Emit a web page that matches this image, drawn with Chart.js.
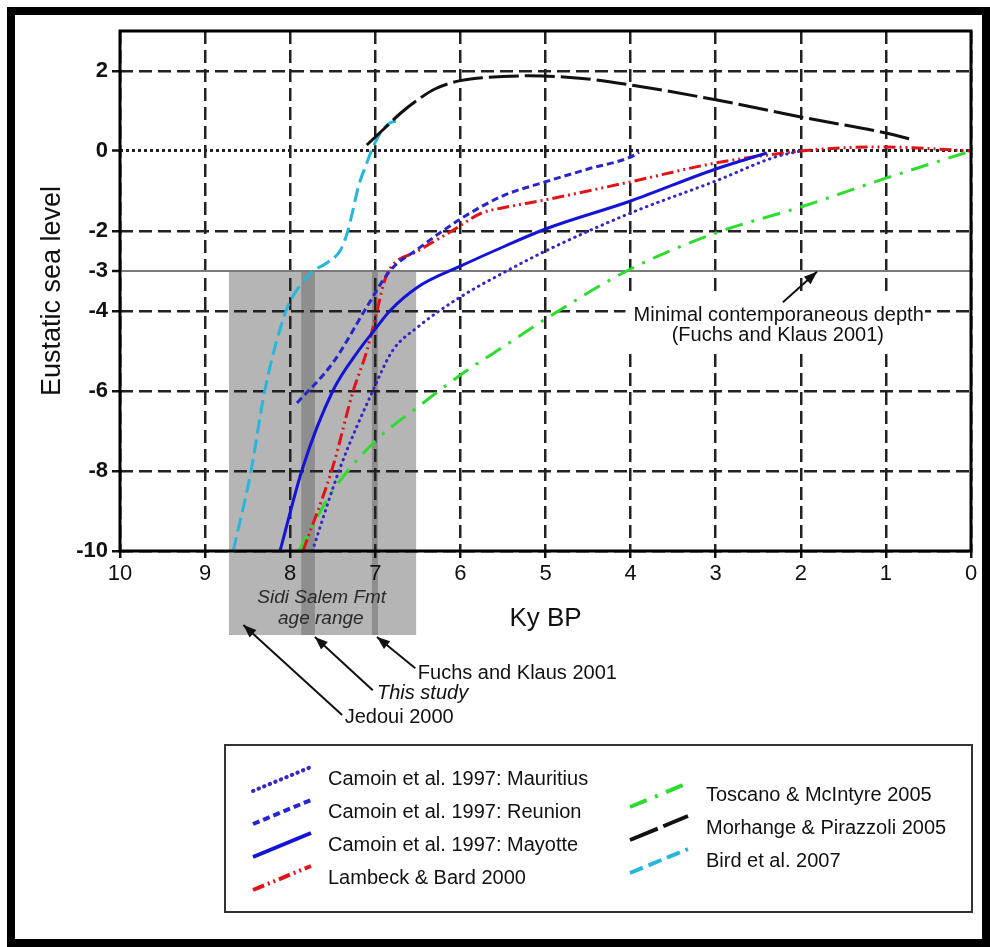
<!DOCTYPE html>
<html><head><meta charset="utf-8">
<script src="https://cdn.jsdelivr.net/npm/chart.js@4.4.1/dist/chart.umd.min.js"></script>
<style>
html,body{margin:0;padding:0;background:#fff;}
#wrap{position:relative;width:990px;height:947px;overflow:hidden;}
#frame{position:absolute;left:7px;top:7px;width:983px;height:940px;border:8px solid #000;box-sizing:border-box;pointer-events:none;}
canvas{display:block;}
</style></head><body>
<div id="wrap"><canvas id="c" width="990" height="947"></canvas><div id="frame"></div></div>
<script>
const F = '"Liberation Sans", Arial, Helvetica, sans-serif';

// Axis ticks
const xTicks = [10, 9, 8, 7, 6, 5, 4, 3, 2, 1, 0];
const yTicks = [2, 0, -2, -3, -4, -6, -8, -10];

// Series (Ky BP, eustatic sea level in m)
const mauritiusX = [7.74, 7.41, 7.03, 6.8, 6.5, 6.0, 5.5, 5.0, 4.0, 3.0, 2.3, 2.0];
const mauritiusY = [-10, -7.9, -6.0, -5.0, -4.4, -3.65, -3.05, -2.5, -1.55, -0.75, -0.15, 0];

const reunionX = [7.92, 7.5, 7.1, 6.83, 6.5, 6.0, 5.5, 5.0, 4.5, 4.0, 3.9];
const reunionY = [-6.3, -5.3, -3.9, -3.0, -2.45, -1.7, -1.12, -0.77, -0.45, -0.15, -0.03];

const mayotteX = [8.12, 7.85, 7.5, 7.2, 7.0, 6.83, 6.5, 6.0, 5.5, 5.0, 4.0, 3.0, 2.4];
const mayotteY = [-10, -7.9, -6.0, -5.0, -4.45, -4.0, -3.4, -2.88, -2.4, -1.95, -1.25, -0.45, -0.05];

const lambeckX = [7.85, 7.5, 7.26, 7.1, 6.98, 6.9, 6.83, 6.5, 6.1, 5.75, 5.5, 5.0, 4.0, 3.0, 2.0, 1.5, 1.0, 0.5, 0];
const lambeckY = [-10, -7.9, -6.0, -5.0, -4.0, -3.3, -2.95, -2.5, -2.0, -1.55, -1.42, -1.22, -0.77, -0.3, 0.0, 0.08, 0.1, 0.06, 0];

const toscanoX = [7.9, 7.5, 7.0, 6.5, 6.0, 5.5, 5.0, 4.0, 3.0, 2.0, 1.0, 0];
const toscanoY = [-10, -8.5, -7.25, -6.4, -5.6, -4.9, -4.2, -2.95, -2.05, -1.4, -0.68, 0];

const morhangeX = [7.1, 6.9, 6.7, 6.5, 6.3, 6.0, 5.5, 5.2, 4.6, 4.0, 3.0, 2.0, 1.0, 0.68];
const morhangeY = [0.15, 0.55, 0.95, 1.28, 1.55, 1.76, 1.86, 1.88, 1.82, 1.65, 1.28, 0.85, 0.45, 0.28];

const birdX = [8.67, 8.46, 8.30, 8.05, 7.93, 7.73, 7.57, 7.41, 7.33, 7.27, 7.2, 7.1, 7.04, 6.94, 6.83, 6.75];
const birdY = [-10, -8, -6, -4, -3.5, -3.0, -2.8, -2.48, -2.05, -1.55, -0.9, -0.3, 0.03, 0.45, 0.7, 0.75];

// Age ranges (Ky BP) and minimal depth
const sidiSalemRange = [8.72, 6.52];
const thisStudyRange = [7.87, 7.71];
const fuchsRange = [7.04, 6.97];
const minimalDepth = -3;
const shadeBottom = -12.1;

const pts = (xs, ys) => xs.map((v, i) => ({x: v, y: ys[i]}));

const series = [
  {label: 'Camoin et al. 1997: Mauritius', x: mauritiusX, y: mauritiusY, color: '#3328c4', dash: [0.5, 5.5], cap: 'round', col: 0},
  {label: 'Camoin et al. 1997: Reunion', x: reunionX, y: reunionY, color: '#2626cc', dash: [7, 4], cap: 'butt', col: 0},
  {label: 'Camoin et al. 1997: Mayotte', x: mayotteX, y: mayotteY, color: '#1414d6', dash: [], cap: 'butt', col: 0},
  {label: 'Lambeck & Bard 2000', x: lambeckX, y: lambeckY, color: '#e01418', dash: [12, 4, 2, 4, 2, 4], cap: 'butt', col: 0},
  {label: 'Toscano & McIntyre 2005', x: toscanoX, y: toscanoY, color: '#2edc2e', dash: [18, 9, 3, 9], cap: 'butt', col: 1},
  {label: 'Morhange & Pirazzoli 2005', x: morhangeX, y: morhangeY, color: '#111111', dash: [30, 6], cap: 'butt', col: 1},
  {label: 'Bird et al. 2007', x: birdX, y: birdY, color: '#27b6dc', dash: [14, 6], cap: 'butt', col: 1}
];

const datasets = series.map(s => ({
  label: s.label,
  data: pts(s.x, s.y),
  borderColor: s.color,
  borderWidth: 3,
  borderDash: s.dash,
  borderCapStyle: s.cap,
  pointRadius: 0,
  fill: false,
  cubicInterpolationMode: 'monotone'
}));

function arrow(ctx, x1, y1, x2, y2) {
  ctx.beginPath(); ctx.moveTo(x1, y1); ctx.lineTo(x2, y2); ctx.stroke();
  const a = Math.atan2(y2 - y1, x2 - x1), L = 13, W = 5;
  ctx.beginPath(); ctx.moveTo(x2, y2);
  ctx.lineTo(x2 - L * Math.cos(a) + W * Math.sin(a), y2 - L * Math.sin(a) - W * Math.cos(a));
  ctx.lineTo(x2 - L * Math.cos(a) - W * Math.sin(a), y2 - L * Math.sin(a) + W * Math.cos(a));
  ctx.closePath(); ctx.fill();
}

const shadePlugin = {
  id: 'shade',
  beforeDraw(chart) {
    const {ctx, scales: {x, y}} = chart;
    const top = y.getPixelForValue(minimalDepth), bot = y.getPixelForValue(shadeBottom);
    const band = (r, c) => {
      const a = x.getPixelForValue(r[0]), b = x.getPixelForValue(r[1]);
      ctx.fillStyle = c; ctx.fillRect(Math.min(a, b), top, Math.abs(b - a), bot - top);
    };
    ctx.save();
    band(sidiSalemRange, '#b5b5b5');
    band(thisStudyRange, '#8e8e8e');
    band(fuchsRange, '#8e8e8e');
    ctx.restore();
  },
  beforeDatasetsDraw(chart) {
    const {ctx, scales: {x, y}} = chart;
    // white box behind the "minimal depth" note
    const x1 = x.getPixelForValue(4.06), x2 = x.getPixelForValue(0.54);
    const y1 = y.getPixelForValue(-3.55), y2 = y.getPixelForValue(-4.93);
    ctx.save(); ctx.fillStyle = '#fff'; ctx.fillRect(x1, y1, x2 - x1, y2 - y1); ctx.restore();
  },
  afterDatasetsDraw(chart) {
    const {ctx, chartArea: a} = chart;
    ctx.save();
    ctx.strokeStyle = '#000'; ctx.lineWidth = 3;
    ctx.strokeRect(a.left, a.top, a.right - a.left, a.bottom - a.top);
    ctx.restore();
  },
  afterDraw(chart) {
    const {ctx, scales: {x, y}} = chart;
    const P = (vx, vy) => [x.getPixelForValue(vx), y.getPixelForValue(vy)];
    ctx.save();
    ctx.fillStyle = '#111'; ctx.strokeStyle = '#111'; ctx.lineWidth = 2;
    ctx.textBaseline = 'middle';
    // Sidi Salem text
    ctx.fillStyle = '#2a2a2a';
    ctx.font = 'italic 19px ' + F; ctx.textAlign = 'center';
    let p = P(7.63, -11.18); ctx.fillText('Sidi Salem Fmt', p[0], p[1]);
    p = P(7.64, -11.7); ctx.fillText('age range', p[0], p[1]);
    ctx.fillStyle = '#111';
    // arrows
    let t = P(6.53, -12.93), h = P(6.98, -12.15); arrow(ctx, t[0], t[1], h[0], h[1]);
    t = P(7.03, -13.48); h = P(7.71, -12.15); arrow(ctx, t[0], t[1], h[0], h[1]);
    t = P(7.39, -14.1); h = P(8.55, -11.85); arrow(ctx, t[0], t[1], h[0], h[1]);
    t = P(2.21, -3.78); h = P(1.81, -3.02); arrow(ctx, t[0], t[1], h[0], h[1]);
    ctx.textAlign = 'left';
    ctx.font = '20px ' + F;
    p = P(6.5, -13.05); ctx.fillText('Fuchs and Klaus 2001', p[0], p[1]);
    ctx.font = 'italic 20px ' + F;
    p = P(6.98, -13.55); ctx.fillText('This study', p[0], p[1]);
    ctx.font = '20px ' + F;
    p = P(7.36, -14.15); ctx.fillText('Jedoui 2000', p[0], p[1]);
    ctx.textAlign = 'center';
    p = P(2.26, -4.1); ctx.fillText('Minimal contemporaneous depth', p[0], p[1]);
    p = P(2.27, -4.6); ctx.fillText('(Fuchs and Klaus 2001)', p[0], p[1]);

    // legend
    ctx.strokeStyle = '#333'; ctx.lineWidth = 2;
    ctx.strokeRect(225, 745, 747, 167);
    const cols = [{sx: 253, tx: 328, rows: [779, 812, 845, 878]}, {sx: 630, tx: 706, rows: [795, 828, 861]}];
    const counters = [0, 0];
    series.forEach(s => {
      const c = cols[s.col]; const ry = c.rows[counters[s.col]++];
      ctx.save();
      ctx.strokeStyle = s.color; ctx.lineWidth = 4; ctx.setLineDash(s.dash); ctx.lineCap = s.cap;
      ctx.beginPath(); ctx.moveTo(c.sx, ry + 12); ctx.lineTo(c.sx + 58, ry - 12); ctx.stroke();
      ctx.restore();
      ctx.fillStyle = '#111'; ctx.font = '20px ' + F; ctx.textAlign = 'left'; ctx.textBaseline = 'middle';
      ctx.fillText(s.label, c.tx, ry);
    });
    ctx.restore();
  }
};

const tv = c => (c && c.tick) ? c.tick.value : null;

new Chart(document.getElementById('c'), {
  type: 'line',
  data: {datasets},
  plugins: [shadePlugin],
  options: {
    responsive: false, animation: false, parsing: true,
    layout: {padding: {left: 0, top: 31, right: 19, bottom: 296}},
    plugins: {legend: {display: false}, tooltip: {enabled: false}},
    scales: {
      x: {
        type: 'linear', reverse: true, min: 0, max: 10,
        afterBuildTicks: s => { s.ticks = xTicks.map(v => ({value: v})); },
        afterFit: s => { s.height = 100; },
        ticks: {font: {family: F, size: 22}, color: '#111', padding: 3, maxRotation: 0, autoSkip: false, callback: v => String(v)},
        grid: {color: '#222', lineWidth: 2.5, tickLength: 7, tickColor: '#111', tickWidth: 2.5},
        border: {display: false, dash: [13, 6]},
        title: {display: true, text: 'Ky BP', font: {family: F, size: 26}, color: '#111', padding: {top: 0, bottom: 17}}
      },
      y: {
        type: 'linear', min: -10, max: 3,
        afterBuildTicks: s => { s.ticks = yTicks.map(v => ({value: v})); },
        afterFit: s => { s.width = 120; },
        ticks: {font: {family: F, size: 22, weight: 'bold'}, color: '#111', padding: 4, autoSkip: false, callback: v => String(v)},
        grid: {
          color: c => tv(c) === -3 ? '#7a7a7a' : '#222',
          lineWidth: c => tv(c) === 0 ? 3 : (tv(c) === -3 ? 2 : 2.5),
          tickLength: 8, tickColor: '#111', tickWidth: 2.5
        },
        border: {display: false, dash: c => tv(c) === 0 ? [3, 3] : (tv(c) === -3 ? [] : [13, 6])},
        title: {display: true, text: 'Eustatic sea level', font: {family: F, size: 27}, color: '#111', padding: {top: 36, bottom: 0}}
      }
    }
  }
});
</script>
</body></html>
